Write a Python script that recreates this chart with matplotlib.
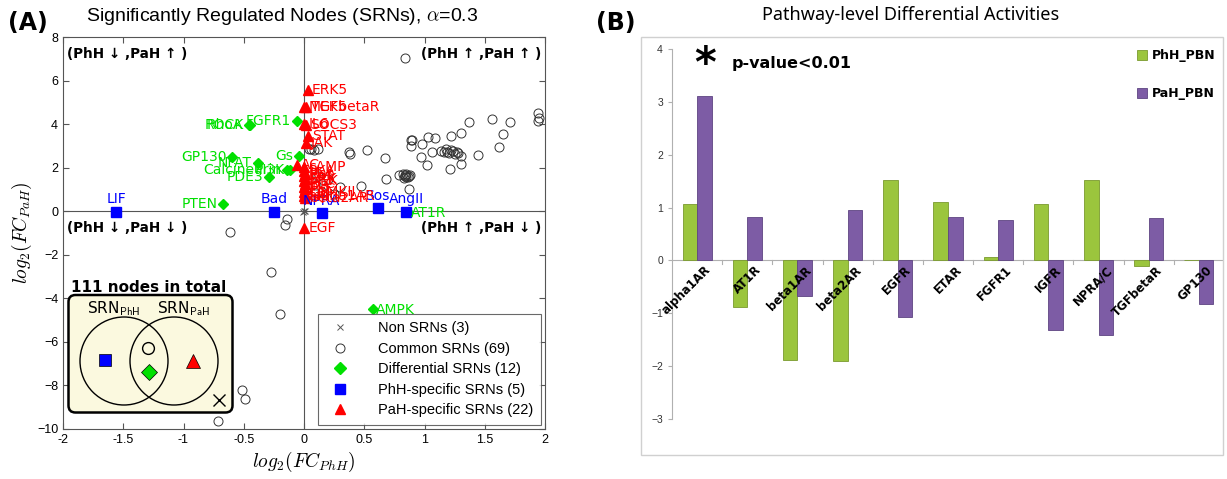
import matplotlib
matplotlib.use("Agg")
import matplotlib.pyplot as plt
from matplotlib.patches import FancyBboxPatch, Circle, Rectangle
from matplotlib.lines import Line2D
from matplotlib.ticker import FormatStrFormatter

plt.rcParams['mathtext.fontset'] = 'cm'
plt.rcParams['font.family'] = ['Liberation Sans', 'DejaVu Sans']

# ---------------- Panel A data: log2 fold changes ----------------
non_x = [0.0, 0.005, -0.005]
non_y = [0.0, 0.03, -0.02]

common_x = [0.84, 1.94, 1.94, 1.37, 1.56, 1.71, 1.30, 1.22, 1.09, 1.03, 0.89, 0.89,
            0.98, 1.65, 1.62, 1.44, 1.06, 1.14, 1.18, 1.24, 1.28, 1.30, 1.20, 0.97,
            1.02, 1.21, 1.30, 0.37, 0.67, 0.68, 0.82, 0.84, 0.86, 0.88, 0.85, 0.83,
            0.87, 0.79, 0.87, 0.47, 1.16, 1.25, 0.04, 0.08, 0.12, 0.38, 0.52, -0.144,
            -0.158, -0.614, -0.274, -0.20, -0.517, -0.49, -0.716, 0.85, 0.84, 1.19,
            1.22, 1.27, 0.90, 0.06, 0.10, 0.15, 0.20, 0.25, 0.12, 0.30, 1.95]
common_y = [7.05, 4.49, 4.15, 4.11, 4.23, 4.08, 3.60, 3.45, 3.34, 3.39, 3.26, 2.99,
            3.09, 3.54, 2.94, 2.56, 2.73, 2.77, 2.84, 2.77, 2.68, 2.54, 2.68, 2.50,
            2.10, 1.96, 2.15, 2.74, 2.45, 1.46, 1.70, 1.62, 1.55, 1.66, 1.72, 1.52,
            1.60, 1.65, 1.00, 1.16, 2.72, 2.62, 2.88, 2.80, 2.88, 2.65, 2.80, -0.38,
            -0.64, -0.95, -2.79, -4.74, -8.23, -8.61, -9.64, 1.58, 1.68, 2.74,
            2.80, 2.72, 3.28, 2.85, 1.20, 0.90, 1.50, 0.80, 1.60, 1.10, 4.30]

diff_names = ['RhoA', 'ROCK', 'FGFR1', 'GP130', 'NFAT', 'Calcineurin', 'PI3K',
              'PDE3', 'Gs', 'PTEN', 'AMPK', 'AT1R']
diff_x = [-0.46, -0.45, -0.06, -0.595, -0.385, -0.14, -0.115, -0.29, -0.044, -0.67, 0.57, 0.86]
diff_y = [3.97, 3.95, 4.15, 2.50, 2.22, 1.88, 1.90, 1.58, 2.53, 0.32, -4.49, -0.02]

phh_names = ['LIF', 'Bad', 'NPRA', 'Sos', 'AngII']
phh_x = [-1.56, -0.246, 0.147, 0.61, 0.85]
phh_y = [-0.03, -0.03, -0.10, 0.14, -0.03]

pah_names = ['ERK5', 'MEK5', 'TGFbetaR', 'IL6', 'SOCS3', 'STAT', 'JAK', 'AC', 'cAMP',
             'PKA', 'Ras', 'Raf', 'ERK', 'MEK', 'PLC', 'IP3', 'PKC', 'CaMKII', 'Gq',
             'alpha1AR', 'beta2AR', 'EGF']
pah_x = [0.03, 0.0, 0.02, 0.0, 0.02, 0.03, 0.02, -0.06, 0.0,
         0.0, 0.01, 0.0, 0.01, 0.0, 0.01, 0.0, 0.01, 0.0, 0.01,
         0.0, 0.01, 0.0]
pah_y = [5.56, 4.77, 4.77, 4.00, 3.95, 3.45, 3.14, 2.11, 2.04,
         1.85, 1.72, 1.62, 1.50, 1.38, 1.25, 1.12, 1.00, 0.90, 0.80,
         0.70, 0.62, -0.77]

legend_labels = ['Non SRNs (3)', 'Common SRNs (69)', 'Differential SRNs (12)',
                 'PhH-specific SRNs (5)', 'PaH-specific SRNs (22)']

# ---------------- Panel B data: pathway-level activities ----------------
pathways = ['alpha1AR', 'AT1R', 'beta1AR', 'beta2AR', 'EGFR', 'ETAR', 'FGFR1',
            'IGFR', 'NPRA/C', 'TGFbetaR', 'GP130']
phh_pbn = [1.07, -0.88, -1.89, -1.91, 1.53, 1.10, 0.06, 1.07, 1.52, -0.10, 0.01]
pah_pbn = [3.11, 0.83, -0.67, 0.96, -1.07, 0.83, 0.76, -1.32, -1.42, 0.80, -0.82]

GREEN = '#00e000'
RED = '#ff0000'
BLUE = '#0000ff'

W, H = 1227, 479
fig = plt.figure(figsize=(W / 100, H / 100), dpi=100)


def px_rect(x0, y0, x1, y1):
    return [x0 / W, 1 - y1 / H, (x1 - x0) / W, (y1 - y0) / H]


# ======================= Panel A =======================
ax = fig.add_axes(px_rect(63, 37, 545, 429))
ax.set_xlim(-2, 2)
ax.set_ylim(-10, 8)
ax.axhline(0, color='#555555', lw=0.8, zorder=1)
ax.axvline(0, color='#555555', lw=0.8, zorder=1)

ax.plot(common_x, common_y, 'o', ms=6.5, mfc='none', mec='#333333', mew=0.7, zorder=2)
ax.plot(non_x, non_y, 'x', ms=4, color='#555555', mew=0.7, zorder=3)
ax.plot(diff_x, diff_y, 'D', ms=5.5, color=GREEN, mec=GREEN, zorder=4)
ax.plot(phh_x, phh_y, 's', ms=7, color=BLUE, zorder=5)
ax.plot(pah_x, pah_y, '^', ms=7.5, color=RED, zorder=6)

lab_fs = 10
lab_font = ['DejaVu Sans']
for n, x, y in zip(diff_names, diff_x, diff_y):
    if x < 0:
        ax.annotate(n, (x, y), xytext=(-4, 0), textcoords='offset points',
                    ha='right', va='center', color=GREEN, fontsize=lab_fs,
                    family=lab_font, zorder=7)
    else:
        ax.annotate(n, (x, y), xytext=(2, -1), textcoords='offset points',
                    ha='left', va='center', color=GREEN, fontsize=lab_fs,
                    family=lab_font, zorder=7)
for n, x, y in zip(phh_names, phh_x, phh_y):
    ax.annotate(n, (x, y), xytext=(0, 4), textcoords='offset points',
                ha='center', va='bottom', color=BLUE, fontsize=lab_fs,
                family=lab_font, zorder=7)
for n, x, y in zip(pah_names, pah_x, pah_y):
    ax.annotate(n, (x, y), xytext=(3, 0), textcoords='offset points',
                ha='left', va='center', color=RED, fontsize=lab_fs,
                family=lab_font, zorder=7)

ax.set_xticks([-2, -1.5, -1, -0.5, 0, 0.5, 1, 1.5, 2])
ax.set_yticks(range(-10, 9, 2))
ax.xaxis.set_major_formatter(FormatStrFormatter('%g'))
ax.tick_params(direction='in', top=True, right=True, length=4, labelsize=9,
               color='#555555', width=0.8)
for s in ax.spines.values():
    s.set_color('#555555')
    s.set_linewidth(0.8)
ax.text(0.454, 1.025, r'Significantly Regulated Nodes (SRNs), $\alpha$=0.3', fontsize=14,
        ha='center', va='bottom', transform=ax.transAxes)
ax.set_xlabel(r'$log_2(FC_{PhH})$', fontsize=14, labelpad=3)
ax.set_ylabel(r'$log_2(FC_{PaH})$', fontsize=14, labelpad=2)

qfont = dict(fontsize=9.8, fontweight='bold', family=['DejaVu Sans'])
ax.text(0.008, 0.957, '(PhH \u2193 ,PaH \u2191 )', transform=ax.transAxes, ha='left', va='center', **qfont)
ax.text(0.992, 0.957, '(PhH \u2191 ,PaH \u2191 )', transform=ax.transAxes, ha='right', va='center', **qfont)
ax.text(0.008, 0.513, '(PhH \u2193 ,PaH \u2193 )', transform=ax.transAxes, ha='left', va='center', **qfont)
ax.text(0.992, 0.513, '(PhH \u2191 ,PaH \u2193 )', transform=ax.transAxes, ha='right', va='center', **qfont)

handles = [
    Line2D([], [], ls='none', marker='x', ms=4, color='#555555', mew=0.7),
    Line2D([], [], ls='none', marker='o', ms=6.5, mfc='none', mec='#333333', mew=0.7),
    Line2D([], [], ls='none', marker='D', ms=6, color=GREEN),
    Line2D([], [], ls='none', marker='s', ms=7, color=BLUE),
    Line2D([], [], ls='none', marker='^', ms=7.5, color=RED),
]
leg = ax.legend(handles, legend_labels, loc='lower right', fontsize=10.5,
                frameon=True, fancybox=False, edgecolor='#444444',
                borderaxespad=0.3, labelspacing=0.45, handletextpad=1.6,
                borderpad=0.5)
leg.get_frame().set_linewidth(0.8)
leg.set_zorder(8)

# Venn inset describing the node groups
axv = fig.add_axes(px_rect(63, 275, 245, 420))
axv.set_xlim(63, 245)
axv.set_ylim(420, 275)
axv.axis('off')
axv.add_patch(FancyBboxPatch((68.5, 295), 164, 117.5,
                             boxstyle='round,pad=0,rounding_size=7',
                             fc='#fbf9df', ec='black', lw=1.8))
axv.add_patch(Circle((124, 361), 44, fill=False, ec='black', lw=1))
axv.add_patch(Circle((174, 361), 44, fill=False, ec='black', lw=1))
axv.text(71, 287, '111 nodes in total', fontsize=11, fontweight='bold',
         family=['DejaVu Sans'], ha='left', va='center')
axv.text(114, 309, r'SRN$_{\mathsf{PhH}}$', fontsize=11, ha='center', va='center',
         family=['DejaVu Sans'])
axv.text(183, 309, r'SRN$_{\mathsf{PaH}}$', fontsize=11, ha='center', va='center',
         family=['DejaVu Sans'])
axv.plot([105], [360], 's', ms=9, color=BLUE, mec='black', mew=0.5)
axv.plot([148.5], [347.5], 'o', ms=8.5, mfc='none', mec='black', mew=1)
axv.plot([149.5], [372], 'D', ms=8.5, color=GREEN, mec='black', mew=0.5)
axv.plot([193.5], [361], '^', ms=10, color=RED, mec='black', mew=0.5)
axv.plot([219], [400], 'x', ms=8, color='black', mew=1)

fig.text(8 / W, 1 - 23 / H, '(A)', fontsize=17, fontweight='bold', va='center', ha='left',
         family=['DejaVu Sans'])

# ======================= Panel B =======================
fig.patches.append(Rectangle((641 / W, 1 - 455 / H), (1223 - 641) / W, (455 - 37) / H,
                             transform=fig.transFigure, fill=False, ec='#d0d0d0', lw=1))
fig.text(596 / W, 1 - 23 / H, '(B)', fontsize=17, fontweight='bold', va='center', ha='left',
         family=['DejaVu Sans'])
fig.text(911 / W, 1 - 15 / H, 'Pathway-level Differential Activities', fontsize=13,
         ha='center', va='center', family=['Noto Sans', 'DejaVu Sans'])

bx = fig.add_axes(px_rect(672, 49, 1224, 419))
idx = list(range(len(pathways)))
bw = 0.29
bx.bar([i - bw / 2 for i in idx], phh_pbn, width=bw, color='#9bc53d',
       edgecolor='#7a9a2e', lw=0.6, label='PhH_PBN', zorder=3)
bx.bar([i + bw / 2 for i in idx], pah_pbn, width=bw, color='#7d5ca5',
       edgecolor='#5e4482', lw=0.6, label='PaH_PBN', zorder=3)
bx.set_xlim(-0.5, len(pathways) - 0.5)
bx.set_ylim(-3, 4)
bx.axhline(0, color='#b0b0b0', lw=0.8, zorder=2)
for b in [i + 0.5 for i in idx[:-1]]:
    bx.plot([b, b], [0, -0.07], color='#b0b0b0', lw=0.8, zorder=2)
for i, n in zip(idx, pathways):
    bx.text(i + 0.14, -0.06, n, rotation=45, rotation_mode='anchor', ha='right',
            va='top', fontsize=8.5, fontweight='bold', family=['DejaVu Sans'], zorder=4)
bx.set_xticks([])
bx.set_yticks(range(-3, 5))
bx.tick_params(axis='y', labelsize=7.5, length=3, color='#b0b0b0', labelcolor='#333333')
for k in ['top', 'right', 'bottom']:
    bx.spines[k].set_visible(False)
bx.spines['left'].set_color('#b0b0b0')
bx.set_facecolor('none')
bx.text(0.15, 3.7, '*', fontsize=30, fontweight='bold', ha='center', va='center',
        family=['DejaVu Sans'])
bx.text(0.68, 3.72, 'p-value<0.01', fontsize=11.5, fontweight='bold', ha='left',
        va='center', family=['DejaVu Sans'])
lg = bx.legend(loc='upper right', bbox_to_anchor=(1.005, 1.03), frameon=False,
               prop={'size': 9, 'weight': 'bold', 'family': 'DejaVu Sans'},
               labelspacing=2.0, handlelength=0.8, handleheight=0.8, handletextpad=0.4)

fig.savefig('out.png', dpi=100)
